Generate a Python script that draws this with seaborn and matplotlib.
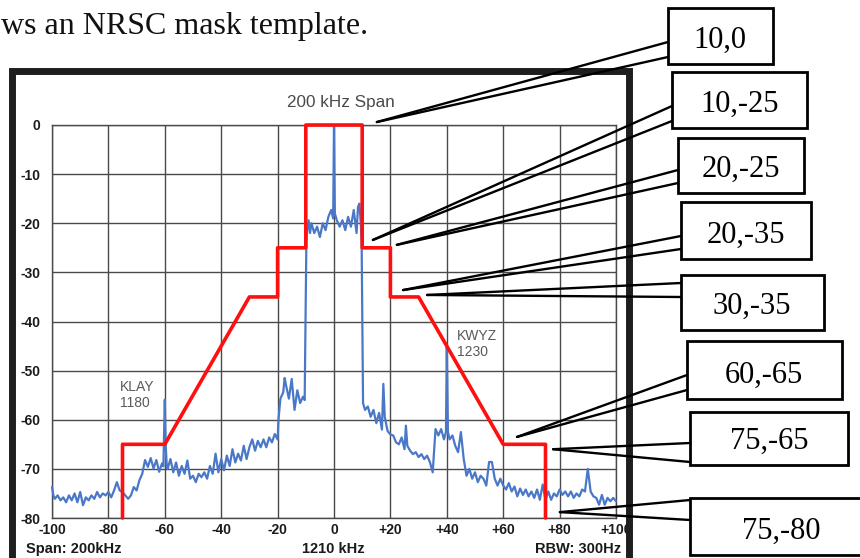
import matplotlib
matplotlib.use("Agg")
import matplotlib.pyplot as plt
import seaborn as sns
import pandas as pd
from matplotlib.patches import Rectangle
from matplotlib.lines import Line2D

# ---------------- data ----------------
mask_khz = [-75, -75, -60, -30, -20, -20, -10, -10, 10, 10, 20, 20, 30, 60, 75, 75]
mask_db = [-80, -65, -65, -35, -35, -25, -25, 0, 0, -25, -25, -35, -35, -65, -65, -80]

spec_khz = [
    -100, -99.5, -99, -98, -97, -96, -95, -94, -93, -92,
    -91, -90, -89, -88, -87, -86, -85, -84, -83, -82,
    -81, -80, -79, -78, -77, -76, -75, -74, -73, -72,
    -71, -70, -69, -68, -67, -66, -65, -64, -63, -62,
    -61, -60.5, -60, -59.7,
    -59.3, -59, -58, -57, -56, -55, -54, -53, -52, -51,
    -50, -49, -48, -47, -46, -45, -44, -43, -42, -41,
    -40, -39, -38, -37, -36, -35, -34, -33, -32, -31,
    -30, -29, -28, -27, -26, -25, -24, -23, -22, -21, -20,
    -19.7, -19, -18, -17.5, -17, -16, -15, -14, -13, -12,
    -11, -10.4, -9.8, -9.5, -9, -8.5, -8, -7, -6, -5,
    -4, -3, -2, -1, -0.3, 0, 0.3, 1, 2, 3,
    4, 5, 6, 7, 8, 8.5, 9, 9.5, 9.8, 10.3,
    11, 12, 13, 14, 15, 16, 17, 17.5, 18, 19, 20,
    21, 22, 23, 24, 25, 25.5, 26, 27, 28, 29,
    30, 31, 32, 33, 34, 35, 36, 37, 38, 39,
    39.7, 40, 40.4,
    41, 42, 43, 44, 45, 46, 47, 48, 49, 50,
    51, 52, 53, 54, 55, 56, 57, 58, 59, 60,
    61, 62, 63, 64, 65, 66, 67, 68, 69, 70,
    71, 72, 73, 74, 75, 76, 77, 78, 79, 80,
    81, 82, 83, 84, 85, 86, 87, 88, 89, 90,
    91, 92, 93, 94, 95, 96, 97, 98, 99, 100,
]
spec_db = [
    -73.7, -75.4, -76.1, -75.4, -76.4, -75.8, -76.8, -75.4, -76.4, -75.0,
    -76.8, -74.7, -77.4, -75.8, -76.4, -75.4, -76.1, -74.7, -75.8, -75.0,
    -75.4, -74.7, -75.8, -74.4, -72.7, -74.4, -74.7, -75.4, -76.1, -75.4,
    -73.7, -74.4, -72.3, -71.0, -68.2, -69.6, -67.8, -69.9, -68.2, -70.6,
    -68.9, -69.5, -55.9, -65.0,
    -69.4, -70.0, -68.0, -70.7, -68.7, -71.4, -69.4, -71.0, -68.3, -72.0,
    -71.4, -72.7, -71.0, -71.7, -70.7, -72.0, -69.4, -71.0, -66.9, -70.7,
    -68.0, -70.3, -67.3, -69.4, -66.0, -68.7, -66.9, -68.3, -65.3, -68.0,
    -65.6, -64.0, -66.3, -64.3, -65.6, -64.0, -65.6, -63.6, -64.6, -62.9, -64.0,
    -60.0, -55.7, -54.4, -51.5, -53.0, -55.7, -51.7, -58.0, -54.0, -56.6,
    -55.3, -56.0, -24.0, -21.4, -19.4, -22.0, -20.0, -22.0, -20.7, -22.8,
    -20.0, -21.4, -18.7, -17.3, -19.0, 0.0, -18.0, -19.4, -20.7, -19.4,
    -21.4, -18.7, -20.7, -17.3, -22.0, -16.7, -16.0, -20.0, -24.0, -56.6,
    -58.0, -57.3, -59.4, -58.0, -60.7, -58.6, -62.0, -52.7, -59.4, -62.3, -63.0,
    -63.2, -64.6, -65.0, -63.6, -66.0, -61.2, -65.3, -66.3, -67.0, -66.6,
    -67.6, -67.0, -68.0, -67.3, -68.6, -70.7, -61.9, -63.2, -61.9, -64.0,
    -62.5, -45.2, -62.5,
    -64.0, -63.2, -65.3, -66.6, -62.5, -68.0, -71.4, -70.0, -72.0, -70.7,
    -72.7, -71.4, -72.0, -73.4, -68.6, -68.6, -72.0, -73.4, -72.0, -73.4,
    -74.2, -72.9, -74.6, -73.6, -75.6, -74.0, -75.3, -74.2, -75.6, -74.6,
    -75.9, -74.2, -76.3, -73.2, -76.3, -74.6, -76.3, -75.0, -75.6, -74.2,
    -75.3, -74.6, -75.6, -74.6, -75.9, -75.0, -75.6, -74.2, -74.6, -70.0,
    -74.6, -75.6, -75.9, -77.3, -75.3, -77.3, -75.9, -76.6, -75.9, -76.6,
]
assert len(spec_khz) == len(spec_db)

x_ticks = [-100, -80, -60, -40, -20, 0, 20, 40, 60, 80, 100]
x_tick_labels = ["-100", "-80", "-60", "-40", "-20", "0", "+20", "+40", "+60", "+80", "+100"]
y_ticks = [0, -10, -20, -30, -40, -50, -60, -70, -80]
y_tick_labels = ["0", "-10", "-20", "-30", "-40", "-50", "-60", "-70", "-80"]

title_text = "200 kHz Span"
footer_left = "Span: 200kHz"
footer_mid = "1210 kHz"
footer_right = "RBW: 300Hz"
caption_text = "ws an NRSC mask template."
station_labels = ["KLAY\n1180", "KWYZ\n1230"]
station_khz = [-76, 43.6]
station_db = [-52.0, -41.6]

callout_labels = ["10,0", "10,-25", "20,-25", "20,-35", "30,-35", "60,-65", "75,-65", "75,-80"]
callout_khz = [15.2, 13.8, 22.3, 24.5, 33.0, 64.9, 77.7, 80.1]
callout_db = [0.6, -23.4, -24.4, -33.6, -34.6, -63.5, -66.0, -78.8]

# ---------------- layout (pixels, top-left origin) ----------------
W, H = 860, 558
box_rects = [  # x0, y_top, x1, y_bottom
    (668, 8, 773, 64),
    (672, 72, 807, 128),
    (678, 138, 804, 193),
    (681, 202, 811, 259),
    (681, 275, 824, 330),
    (687, 341, 842, 399),
    (690, 412, 848, 465),
    (690, 498, 872, 555),
]
line_anchor_y = [(42, 57), (106, 121), (170, 183), (236, 249), (283, 297),
                 (375, 390), (443, 462), (500, 520)]
text_center_x = [720, 740, 741, 746, 752, 764, 769, 781]


def fx(px):
    return px / W


def fy(py):
    return 1 - py / H


sns.set_theme(style="white")
plt.rcParams["font.family"] = ["Liberation Sans", "DejaVu Sans"]

fig = plt.figure(figsize=(W / 100, H / 100), dpi=100)
fig.patch.set_facecolor("white")
ax = fig.add_axes([fx(52), fy(518), fx(616) - fx(52), fy(125) - fy(518)])
ax.set_facecolor("white")

spec_df = pd.DataFrame({"kHz": spec_khz, "dB": spec_db})
mask_df = pd.DataFrame({"kHz": mask_khz, "dB": mask_db})

sns.lineplot(data=spec_df, x="kHz", y="dB", ax=ax, sort=False, estimator=None,
             color="#4a78c8", linewidth=1.6, zorder=3)
sns.lineplot(data=mask_df, x="kHz", y="dB", ax=ax, sort=False, estimator=None,
             color="#ff1010", linewidth=2.6, zorder=4)
for ln in ax.lines:
    ln.set_clip_on(False)

ax.set_xlim(-100, 100)
ax.set_ylim(-80, 0)
ax.set_xticks(x_ticks, labels=x_tick_labels)
ax.set_yticks(y_ticks, labels=y_tick_labels)
ax.set_xlabel("")
ax.set_ylabel("")
ax.grid(True, color="#4a4a4a", linewidth=1.0)
ax.set_axisbelow(True)
for sp in ax.spines.values():
    sp.set_color("#4a4a4a")
    sp.set_linewidth(1.0)
ax.tick_params(axis="both", length=0, labelsize=10, colors="#1a1a1a")
ax.tick_params(axis="x", pad=3.5)
ax.tick_params(axis="y", pad=8.5)
for lab in ax.get_xticklabels() + ax.get_yticklabels():
    lab.set_fontweight("bold")

for lbl, sx, sy in zip(station_labels, station_khz, station_db):
    ax.text(sx, sy, lbl, ha="left", va="top", fontsize=10, color="#5a5a5a",
            linespacing=1.15, zorder=5)

fig.text(fx(341), fy(103), title_text, ha="center", va="center",
         fontsize=12.3, color="#4a4a4a")
fig.text(fx(26), fy(549), footer_left, ha="left", va="center",
         fontsize=10.5, fontweight="bold", color="#1a1a1a")
fig.text(fx(333), fy(549), footer_mid, ha="center", va="center",
         fontsize=10.5, fontweight="bold", color="#1a1a1a")
fig.text(fx(621), fy(549), footer_right, ha="right", va="center",
         fontsize=10.5, fontweight="bold", color="#1a1a1a")

# dark frame around the analyser screenshot
frame = Rectangle((fx(12), fy(600)), fx(629) - fx(12), fy(71) - fy(600),
                  transform=fig.transFigure, fill=False, edgecolor="#1e1e1e",
                  linewidth=5.0, clip_on=False, zorder=1)
fig.add_artist(frame)

# caption
fig.text(fx(1), fy(34), caption_text, ha="left", va="baseline",
         fontsize=23, family=["Liberation Serif", "DejaVu Serif"], color="#111111")

# callouts
fig.canvas.draw()
to_fig = fig.transFigure.inverted()
for i, lbl in enumerate(callout_labels):
    tx, ty = to_fig.transform(ax.transData.transform((callout_khz[i], callout_db[i])))
    x0, yt, x1, yb = box_rects[i]
    for ay in line_anchor_y[i]:
        fig.add_artist(Line2D([tx, fx(x0)], [ty, fy(ay)], transform=fig.transFigure,
                              color="black", linewidth=1.7, zorder=10))
    fig.add_artist(Rectangle((fx(x0), fy(yb)), fx(x1) - fx(x0), fy(yt) - fy(yb),
                             transform=fig.transFigure, facecolor="white",
                             edgecolor="black", linewidth=2.0, zorder=11))
    fig.text(fx(text_center_x[i]), fy(yb - 16), lbl, ha="center", va="baseline",
             fontsize=22, family=["Liberation Serif", "DejaVu Serif"],
             color="black", zorder=12)

fig.savefig("out.png", dpi=100, facecolor="white")
